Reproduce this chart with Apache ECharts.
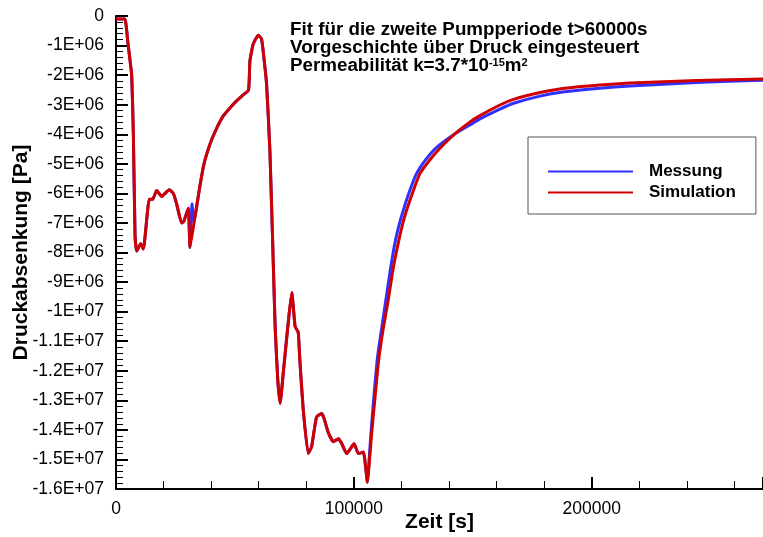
<!DOCTYPE html>
<html>
<head>
<meta charset="utf-8">
<script src="https://cdn.jsdelivr.net/npm/echarts@6/dist/echarts.min.js"></script>
<style>
html,body{margin:0;padding:0;background:#fff;}
#chart{width:763px;height:537px;}
</style>
</head>
<body>
<div id="chart"></div>
<script>
// Zeit [s]
const timeMessung = [0,2800,3800,5000,5900,6600,7300,8000,8700,10400,11500,14000,15400,17100,19200,22400,24100,25500,27600,28500,30400,31100,32000,32600,33200,35300,37000,39500,42000,45100,48000,50700,53000,55700,56300,57700,59800,61200,62300,63300,64700,66100,66900,68000,69000,70400,72500,73900,75300,76600,77300,78700,80800,82200,84300,86400,87400,89300,91400,93500,94900,97000,100100,101900,104000,105700,106500,107300,108600,110000,111800,113400,115300,117200,118900,120700,123300,126300,130200,134700,142400,148700,153000,161400,166800,178200,187800,203400,216000,244100,272000];
// Druckabsenkung [Pa]
const druckMessung = [-1.0e5,-1.0e5,-1.0e5,-0.9e6,-1.5e6,-2.0e6,-4.0e6,-7.4e6,-7.95e6,-7.7e6,-7.88e6,-6.2e6,-6.2e6,-5.9e6,-6.1e6,-5.88e6,-6.0e6,-6.36e6,-7.0e6,-6.95e6,-6.5e6,-7.83e6,-6.35e6,-6.9e6,-6.8e6,-5.74e6,-5.0e6,-4.34e6,-3.85e6,-3.38e6,-3.1e6,-2.87e6,-2.7e6,-2.51e6,-1.52e6,-0.95e6,-0.65e6,-0.78e6,-1.5e6,-2.3e6,-4.56e6,-8.3e6,-10.5e6,-12.3e6,-13.1e6,-12.0e6,-10.3e6,-9.35e6,-10.5e6,-10.7e6,-11.66e6,-13.3e6,-14.8e6,-14.58e6,-13.57e6,-13.45e6,-13.6e6,-14.1e6,-14.4e6,-14.3e6,-14.46e6,-14.8e6,-14.47e6,-14.8e6,-14.75e6,-15.77e6,-14.9e6,-14.0e6,-12.7e6,-11.5e6,-10.5e6,-9.63e6,-8.6e6,-7.7e6,-7.1e6,-6.59e6,-5.95e6,-5.34e6,-4.86e6,-4.45e6,-3.99e6,-3.69e6,-3.48e6,-3.15e6,-2.96e6,-2.71e6,-2.57e6,-2.44e6,-2.37e6,-2.25e6,-2.17e6];

const timeSimulation = [0,2800,3800,5000,5900,6600,7300,8000,8700,10400,11500,14000,15400,17100,19200,22400,24100,25500,27600,28500,30400,31100,33200,35300,37000,39500,42000,45100,48000,50700,53000,55700,56300,57700,59800,61200,62300,63300,64700,66100,66900,68000,69000,70400,72500,73900,75300,76600,77300,78700,80800,82200,84300,86400,87400,89300,91400,93500,94900,97000,100100,101900,104000,105700,106600,107500,108900,110400,112300,114400,116400,118600,120300,122100,124800,127700,131900,136100,142400,148700,153000,161400,166800,178200,187800,203400,216000,244100,272000];
const druckSimulation = [-1.0e5,-1.0e5,-1.0e5,-0.9e6,-1.5e6,-2.0e6,-4.0e6,-7.4e6,-7.95e6,-7.7e6,-7.88e6,-6.2e6,-6.2e6,-5.9e6,-6.1e6,-5.88e6,-6.0e6,-6.36e6,-7.0e6,-6.95e6,-6.5e6,-7.83e6,-6.8e6,-5.74e6,-5.0e6,-4.34e6,-3.85e6,-3.38e6,-3.1e6,-2.87e6,-2.7e6,-2.51e6,-1.52e6,-0.95e6,-0.65e6,-0.78e6,-1.5e6,-2.3e6,-4.56e6,-8.3e6,-10.5e6,-12.3e6,-13.1e6,-12.0e6,-10.3e6,-9.35e6,-10.5e6,-10.7e6,-11.66e6,-13.3e6,-14.8e6,-14.58e6,-13.57e6,-13.45e6,-13.6e6,-14.1e6,-14.4e6,-14.3e6,-14.46e6,-14.8e6,-14.47e6,-14.8e6,-14.75e6,-15.77e6,-15.0e6,-14.1e6,-12.9e6,-11.66e6,-10.6e6,-9.63e6,-8.6e6,-7.7e6,-7.1e6,-6.59e6,-5.95e6,-5.34e6,-4.87e6,-4.48e6,-3.99e6,-3.59e6,-3.37e6,-3.01e6,-2.83e6,-2.59e6,-2.45e6,-2.33e6,-2.27e6,-2.18e6,-2.13e6];

const seriesNames = ['Messung', 'Simulation'];
const xTicks = [0, 100000, 200000];
const annotationLines = ['Fit für die zweite Pumpperiode t>60000s', 'Vorgeschichte über Druck eingesteuert', 'Permeabilität k=3.7*10', '-15', 'm', '2'];

const FONT = "'Liberation Sans', Arial, Helvetica, sans-serif";

function sci(v) {
  if (v === 0) return '0';
  const e = Math.floor(Math.log10(Math.abs(v)) + 1e-9);
  const m = parseFloat((v / Math.pow(10, e)).toPrecision(3));
  return m + 'E+' + (e < 10 ? '0' + e : e);
}

const chart = echarts.init(document.getElementById('chart'), null, {renderer: 'canvas'});
chart.setOption({
  animation: false,
  backgroundColor: '#ffffff',
  grid: {left: 116, top: 16, right: 0, bottom: 48, containLabel: false, outerBoundsMode: 'none'},
  xAxis: {
    type: 'value', min: 0, max: 272000, interval: 100000,
    name: 'Zeit [s]', nameLocation: 'middle', nameGap: 23, nameMoveOverlap: false,
    nameTextStyle: {fontFamily: FONT, fontWeight: 'bold', fontSize: 21, color: '#000'},
    axisLine: {show: true, onZero: false, lineStyle: {color: '#000', width: 2}},
    axisTick: {show: true, inside: true, length: 12, lineStyle: {color: '#000', width: 2}},
    minorTick: {show: true, splitNumber: 5, length: 8, lineStyle: {color: '#000', width: 1}},
    axisLabel: {fontFamily: FONT, fontSize: 17.5, color: '#000', margin: 11, showMaxLabel: false,
      formatter: v => (xTicks.indexOf(v) >= 0 ? String(v) : '')},
    splitLine: {show: false}
  },
  yAxis: {
    type: 'value', min: -16000000, max: 0, interval: 1000000,
    name: 'Druckabsenkung [Pa]', nameLocation: 'middle', nameGap: 84, nameRotate: 90, nameMoveOverlap: false,
    nameTextStyle: {fontFamily: FONT, fontWeight: 'bold', fontSize: 21, color: '#000'},
    axisLine: {show: true, onZero: false, lineStyle: {color: '#000', width: 2}},
    axisTick: {show: true, inside: true, length: 12, lineStyle: {color: '#000', width: 2}},
    minorTick: {show: true, splitNumber: 5, length: 7, lineStyle: {color: '#000', width: 1}},
    axisLabel: {fontFamily: FONT, fontSize: 17.5, color: '#000', margin: 12, formatter: sci},
    splitLine: {show: false}
  },
  legend: {
    orient: 'vertical', left: 528, top: 137,
    padding: [26, 20, 13, 19], itemGap: 4, itemWidth: 85, itemHeight: 17,
    borderColor: '#555', borderWidth: 1, backgroundColor: '#fff',
    lineStyle: {width: 2},
    itemStyle: {opacity: 0},
    textStyle: {fontFamily: FONT, fontWeight: 'bold', fontSize: 17, color: '#000', padding: [0, 0, 0, 11]},
    data: seriesNames
  },
  graphic: [{
    type: 'text', left: 290, top: 20, z: 10,
    style: {
      text: '{a|' + annotationLines[0] + '}\n{a|' + annotationLines[1] + '}\n{a|' + annotationLines[2] + '}{s|' + annotationLines[3] + '}{a|' + annotationLines[4] + '}{s|' + annotationLines[5] + '}',
      rich: {
        a: {fontFamily: FONT, fontWeight: 'bold', fontSize: 18.8, lineHeight: 18, fill: '#000', verticalAlign: 'bottom'},
        s: {fontFamily: FONT, fontWeight: 'bold', fontSize: 11, lineHeight: 10, fill: '#000', verticalAlign: 'top'}
      }
    }
  }],
  series: [
    {
      name: seriesNames[0], type: 'line', showSymbol: false, symbol: 'none', smooth: 0.15,
      data: timeMessung.map((t, i) => [t, druckMessung[i]]),
      lineStyle: {color: '#3030ff', width: 3}, itemStyle: {color: '#3030ff'}, z: 2
    },
    {
      name: seriesNames[1], type: 'line', showSymbol: false, symbol: 'none', smooth: 0.15,
      data: timeSimulation.map((t, i) => [t, druckSimulation[i]]),
      lineStyle: {color: '#d00000', width: 3}, itemStyle: {color: '#d00000'}, z: 3
    }
  ]
});
</script>
</body>
</html>
